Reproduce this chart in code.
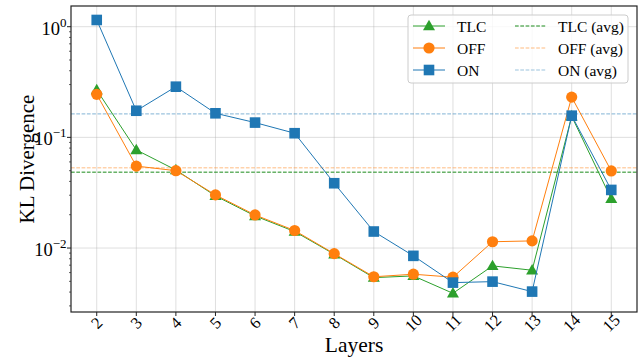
<!DOCTYPE html>
<html>
<head>
<meta charset="utf-8">
<script src="https://cdn.jsdelivr.net/npm/d3@7"></script>
<style>
  body { margin: 0; background: #fff; }
  text { font-family: "Liberation Serif", "Times New Roman", serif; fill: #000; }
</style>
</head>
<body>
<div id="chart"></div>
<script>
// layers on the x axis
const layers = [2, 3, 4, 5, 6, 7, 8, 9, 10, 11, 12, 13, 14, 15];

// KL divergence per layer
const tlc = [0.268, 0.077, 0.0507, 0.0296, 0.0195, 0.0141, 0.0088, 0.0054, 0.0056, 0.0039, 0.0069, 0.0063, 0.155, 0.0278];
const off = [0.245, 0.055, 0.050, 0.0302, 0.0199, 0.0144, 0.0089, 0.0055, 0.0058, 0.00545, 0.0114, 0.0116, 0.231, 0.0497];
const on = [1.15, 0.174, 0.287, 0.165, 0.136, 0.109, 0.0385, 0.0141, 0.0085, 0.00487, 0.00497, 0.00404, 0.157, 0.0335];

const yTicks = [1e-2, 1e-1, 1e0];
const yExp = ["\u22122", "\u22121", "0"];

const width = 644,
  height = 360;
const margin = { top: 6, right: 7, bottom: 48, left: 71 };

const svg = d3
  .select("#chart")
  .append("svg")
  .attr("width", width)
  .attr("height", height);

const x = d3
  .scaleLinear()
  .domain([1.35, 15.65])
  .range([margin.left, width - margin.right]);

const y = d3
  .scaleLog()
  .domain([Math.pow(10, -2.578), Math.pow(10, 0.187)])
  .range([height - margin.bottom, margin.top]);

const x0 = margin.left,
  x1 = width - margin.right,
  y0 = height - margin.bottom,
  y1 = margin.top;

// grid
const grid = svg.append("g").attr("stroke", "#b0b0b0").attr("stroke-opacity", 0.5).attr("stroke-width", 0.8);
grid
  .selectAll("line.gx")
  .data(layers)
  .enter()
  .append("line")
  .attr("x1", (d) => x(d))
  .attr("x2", (d) => x(d))
  .attr("y1", y0)
  .attr("y2", y1);
grid
  .selectAll("line.gy")
  .data(yTicks)
  .enter()
  .append("line")
  .attr("x1", x0)
  .attr("x2", x1)
  .attr("y1", (d) => y(d))
  .attr("y2", (d) => y(d));

// average lines
const avgs = [
  { key: "TLC (avg)", value: d3.mean(tlc), color: "#1a8a1a", opacity: 1, w: 1 },
  { key: "OFF (avg)", value: d3.mean(off), color: "#ff7f0e", opacity: 0.35, w: 1.6 },
  { key: "ON (avg)", value: d3.mean(on), color: "#1f77b4", opacity: 0.45, w: 1.2 },
];
svg
  .selectAll("line.avg")
  .data(avgs)
  .enter()
  .append("line")
  .attr("x1", x0)
  .attr("x2", x1)
  .attr("y1", (d) => y(d.value))
  .attr("y2", (d) => y(d.value))
  .attr("stroke", (d) => d.color)
  .attr("stroke-opacity", (d) => d.opacity)
  .attr("stroke-width", (d) => d.w)
  .attr("stroke-dasharray", "3.7,1.6");

const series = [
  { key: "TLC", values: tlc, color: "#2ca02c", marker: "triangle" },
  { key: "OFF", values: off, color: "#ff7f0e", marker: "circle" },
  { key: "ON", values: on, color: "#1f77b4", marker: "square" },
];

const line = d3
  .line()
  .x((d, i) => x(layers[i]))
  .y((d) => y(d));

function drawMarker(g, type, color) {
  if (type === "triangle") {
    g.append("path").attr("d", "M0,-6.2L6,4.2L-6,4.2Z").attr("fill", color);
  } else if (type === "circle") {
    g.append("circle").attr("r", 5.6).attr("fill", color);
  } else {
    g.append("rect").attr("x", -5.3).attr("y", -5.3).attr("width", 10.6).attr("height", 10.6).attr("fill", color);
  }
}

series.forEach((s) => {
  svg
    .append("path")
    .datum(s.values)
    .attr("d", line)
    .attr("fill", "none")
    .attr("stroke", s.color)
    .attr("stroke-width", 1);
  s.values.forEach((v, i) => {
    const g = svg.append("g").attr("transform", `translate(${x(layers[i])},${y(v)})`);
    drawMarker(g, s.marker, s.color);
  });
});

// frame
svg
  .append("rect")
  .attr("x", x0)
  .attr("y", y1)
  .attr("width", x1 - x0)
  .attr("height", y0 - y1)
  .attr("fill", "none")
  .attr("stroke", "#222")
  .attr("stroke-width", 1.2);

// x ticks
const xt = svg.append("g");
xt.selectAll("line")
  .data(layers)
  .enter()
  .append("line")
  .attr("x1", (d) => x(d))
  .attr("x2", (d) => x(d))
  .attr("y1", y0)
  .attr("y2", y0 + 4)
  .attr("stroke", "#222");
xt.selectAll("text")
  .data(layers)
  .enter()
  .append("text")
  .attr("transform", (d) => `translate(${x(d)},${y0 + 11}) rotate(-45)`)
  .attr("text-anchor", "middle")
  .attr("dominant-baseline", "central")
  .style("font-size", "16.5px")
  .text((d) => d);

// y ticks (log)
const minor = [];
for (let e = -3; e <= 0; e++) {
  for (let m = 2; m <= 9; m++) {
    const v = m * Math.pow(10, e);
    if (v >= y.domain()[0] && v <= y.domain()[1]) minor.push(v);
  }
}
svg
  .selectAll("line.minor")
  .data(minor)
  .enter()
  .append("line")
  .attr("x1", x0 - 2)
  .attr("x2", x0)
  .attr("y1", (d) => y(d))
  .attr("y2", (d) => y(d))
  .attr("stroke", "#222")
  .attr("stroke-width", 0.7);
svg
  .selectAll("line.major")
  .data(yTicks)
  .enter()
  .append("line")
  .attr("x1", x0 - 4)
  .attr("x2", x0)
  .attr("y1", (d) => y(d))
  .attr("y2", (d) => y(d))
  .attr("stroke", "#222");

const yl = svg
  .selectAll("text.ytick")
  .data(yTicks)
  .enter()
  .append("text")
  .attr("x", x0 - 4.5)
  .attr("y", (d) => y(d) + 8)
  .attr("text-anchor", "end")
  .style("font-size", "18.5px");
yl.append("tspan").text("10");
yl.append("tspan")
  .attr("dy", -8)
  .style("font-size", "13px")
  .text((d, i) => yExp[i]);

// axis labels
svg
  .append("text")
  .attr("transform", `translate(27,${(y0 + y1) / 2}) rotate(-90)`)
  .attr("text-anchor", "middle")
  .attr("dominant-baseline", "central")
  .style("font-size", "21px")
  .text("KL Divergence");

svg
  .append("text")
  .attr("x", (x0 + x1) / 2)
  .attr("y", 352)
  .attr("text-anchor", "middle")
  .style("font-size", "21.5px")
  .text("Layers");

// legend
const legend = svg.append("g");
legend
  .append("rect")
  .attr("x", 408)
  .attr("y", 15)
  .attr("width", 220)
  .attr("height", 68)
  .attr("rx", 3)
  .attr("fill", "#fff")
  .attr("fill-opacity", 0.8)
  .attr("stroke", "#ccc")
  .attr("stroke-width", 1);

series.forEach((s, i) => {
  const ly = 26 + i * 22;
  legend
    .append("line")
    .attr("x1", 413)
    .attr("x2", 445)
    .attr("y1", ly)
    .attr("y2", ly)
    .attr("stroke", s.color)
    .attr("stroke-width", 1);
  const g = legend.append("g").attr("transform", `translate(429,${ly})`);
  drawMarker(g, s.marker, s.color);
  legend
    .append("text")
    .attr("x", 457)
    .attr("y", ly + 5.5)
    .style("font-size", "15.5px")
    .text(s.key);
});

avgs.forEach((a, i) => {
  const ly = 26 + i * 22;
  legend
    .append("line")
    .attr("x1", 515)
    .attr("x2", 546)
    .attr("y1", ly)
    .attr("y2", ly)
    .attr("stroke", a.color)
    .attr("stroke-opacity", a.opacity)
    .attr("stroke-width", a.w)
    .attr("stroke-dasharray", "3.7,1.6");
  legend
    .append("text")
    .attr("x", 558)
    .attr("y", ly + 5.5)
    .style("font-size", "15.5px")
    .text(a.key);
});
</script>
</body>
</html>
